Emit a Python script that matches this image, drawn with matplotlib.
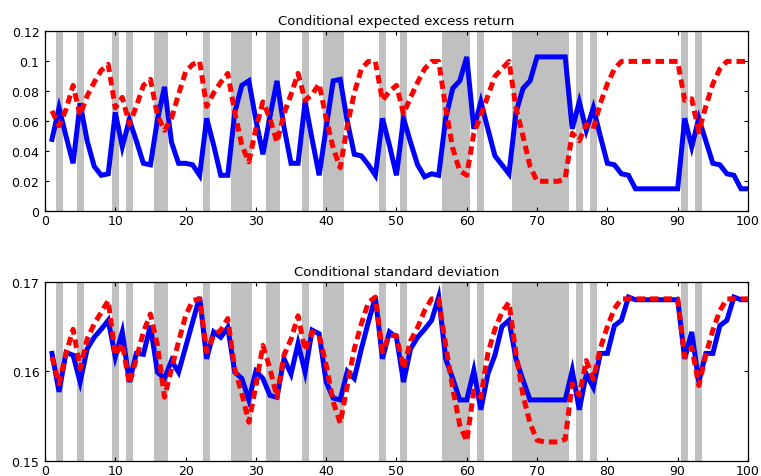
import numpy as np
import matplotlib
matplotlib.use("Agg")
import matplotlib.pyplot as plt

plt.rcParams['font.family'] = ['DejaVu Sans']

t = list(range(1, 101))

recession = [2, 5, 10, 12, 16, 17, 23, 27, 28, 29, 32, 33, 37, 40, 41, 42, 48, 51,
             57, 58, 59, 60, 62, 67, 68, 69, 70, 71, 72, 73, 74, 76, 78, 91, 93]

mean_blue = [0.048, 0.069, 0.050, 0.032, 0.072, 0.047, 0.030, 0.024, 0.025, 0.066,
             0.043, 0.061, 0.047, 0.032, 0.031, 0.061, 0.083, 0.046, 0.032, 0.032,
             0.031, 0.024, 0.062, 0.044, 0.024, 0.024, 0.066, 0.084, 0.087, 0.061,
             0.038, 0.063, 0.087, 0.056, 0.032, 0.032, 0.073, 0.048, 0.024, 0.056,
             0.087, 0.088, 0.060, 0.038, 0.037, 0.031, 0.024, 0.062, 0.044, 0.024,
             0.062, 0.046, 0.031, 0.023, 0.025, 0.024, 0.062, 0.082, 0.087, 0.103,
             0.055, 0.073, 0.055, 0.037, 0.031, 0.025, 0.066, 0.082, 0.087, 0.103,
             0.103, 0.103, 0.103, 0.103, 0.055, 0.073, 0.054, 0.069, 0.050, 0.032,
             0.031, 0.025, 0.024, 0.015, 0.015, 0.015, 0.015, 0.015, 0.015, 0.015,
             0.062, 0.043, 0.062, 0.047, 0.032, 0.031, 0.025, 0.024, 0.015, 0.015]

mean_red = [0.067, 0.057, 0.068, 0.084, 0.064, 0.077, 0.086, 0.094, 0.098, 0.069,
            0.076, 0.058, 0.070, 0.084, 0.088, 0.064, 0.054, 0.062, 0.078, 0.093,
            0.098, 0.100, 0.070, 0.079, 0.086, 0.092, 0.066, 0.044, 0.033, 0.055,
            0.073, 0.062, 0.046, 0.065, 0.078, 0.092, 0.074, 0.078, 0.085, 0.062,
            0.042, 0.029, 0.057, 0.079, 0.095, 0.100, 0.100, 0.074, 0.080, 0.084,
            0.065, 0.076, 0.086, 0.095, 0.100, 0.100, 0.069, 0.042, 0.027, 0.024,
            0.052, 0.064, 0.077, 0.090, 0.095, 0.100, 0.069, 0.050, 0.030, 0.020,
            0.020, 0.020, 0.020, 0.022, 0.052, 0.047, 0.058, 0.055, 0.072, 0.085,
            0.095, 0.100, 0.100, 0.100, 0.100, 0.100, 0.100, 0.100, 0.100, 0.100,
            0.074, 0.075, 0.053, 0.070, 0.085, 0.095, 0.100, 0.100, 0.100, 0.100]

sd_blue = [0.1620, 0.1577, 0.1621, 0.1618, 0.1588, 0.1625, 0.1638, 0.1647, 0.1657, 0.1616,
           0.1644, 0.1588, 0.1620, 0.1619, 0.1651, 0.1599, 0.1592, 0.1612, 0.1599, 0.1627,
           0.1655, 0.1683, 0.1614, 0.1644, 0.1638, 0.1649, 0.1599, 0.1592, 0.1568, 0.1600,
           0.1592, 0.1573, 0.1571, 0.1614, 0.1597, 0.1631, 0.1599, 0.1646, 0.1642, 0.1588,
           0.1570, 0.1568, 0.1600, 0.1592, 0.1625, 0.1655, 0.1683, 0.1614, 0.1644, 0.1638,
           0.1588, 0.1625, 0.1638, 0.1647, 0.1657, 0.1683, 0.1614, 0.1592, 0.1568, 0.1568,
           0.1601, 0.1557, 0.1597, 0.1618, 0.1650, 0.1657, 0.1614, 0.1590, 0.1568, 0.1568,
           0.1568, 0.1568, 0.1568, 0.1568, 0.1601, 0.1557, 0.1597, 0.1582, 0.1620, 0.1620,
           0.1651, 0.1657, 0.1683, 0.1680, 0.1680, 0.1680, 0.1680, 0.1680, 0.1680, 0.1680,
           0.1614, 0.1644, 0.1588, 0.1620, 0.1620, 0.1651, 0.1657, 0.1683, 0.1680, 0.1680]

sd_red = [0.1616, 0.1586, 0.1620, 0.1647, 0.1603, 0.1636, 0.1653, 0.1666, 0.1679, 0.1618,
          0.1631, 0.1586, 0.1614, 0.1644, 0.1664, 0.1629, 0.1571, 0.1603, 0.1633, 0.1662,
          0.1679, 0.1681, 0.1622, 0.1640, 0.1646, 0.1659, 0.1603, 0.1575, 0.1543, 0.1584,
          0.1629, 0.1603, 0.1571, 0.1618, 0.1636, 0.1662, 0.1623, 0.1644, 0.1640, 0.1607,
          0.1566, 0.1542, 0.1584, 0.1625, 0.1653, 0.1677, 0.1683, 0.1622, 0.1640, 0.1640,
          0.1603, 0.1634, 0.1649, 0.1668, 0.1681, 0.1681, 0.1629, 0.1581, 0.1540, 0.1522,
          0.1578, 0.1571, 0.1620, 0.1647, 0.1666, 0.1677, 0.1620, 0.1573, 0.1542, 0.1523,
          0.1521, 0.1521, 0.1521, 0.1524, 0.1586, 0.1573, 0.1612, 0.1591, 0.1626, 0.1650,
          0.1670, 0.1681, 0.1681, 0.1681, 0.1681, 0.1681, 0.1681, 0.1681, 0.1681, 0.1681,
          0.1616, 0.1627, 0.1584, 0.1618, 0.1646, 0.1668, 0.1681, 0.1681, 0.1681, 0.1681]

titles = ["Conditional expected excess return", "Conditional standard deviation"]
xticks = [0, 10, 20, 30, 40, 50, 60, 70, 80, 90, 100]
yticks_top = [0, 0.02, 0.04, 0.06, 0.08, 0.1, 0.12]
ylabels_top = ["0", "0.02", "0.04", "0.06", "0.08", "0.1", "0.12"]
yticks_bot = [0.15, 0.16, 0.17]
ylabels_bot = ["0.15", "0.16", "0.17"]

fig = plt.figure(figsize=(7.61, 4.77), dpi=100)
ax1 = fig.add_axes([0.0591, 0.555, 0.9238, 0.377])
ax2 = fig.add_axes([0.0591, 0.032, 0.9238, 0.375])

panels = [
    (ax1, mean_blue, mean_red, (0, 0.12), yticks_top, ylabels_top, titles[0]),
    (ax2, sd_blue, sd_red, (0.15, 0.17), yticks_bot, ylabels_bot, titles[1]),
]

for ax, blue, red, ylim, yt, yl, title in panels:
    for r in recession:
        ax.axvspan(r - 0.5, r + 0.5, color='#c0c0c0', lw=0, zorder=0)
    ax.plot(t, blue, color='#0000ff', lw=3.6, solid_joinstyle='miter', zorder=2)
    ax.plot(t, red, color='#ff0000', lw=3.6, ls=(0, (1.7, 1.0)), zorder=3)
    ax.set_xlim(0, 100)
    ax.set_ylim(*ylim)
    ax.set_xticks(xticks)
    ax.set_xticklabels([str(v) for v in xticks])
    ax.set_yticks(yt)
    ax.set_yticklabels(yl)
    ax.tick_params(direction='in', top=True, right=True, length=3, width=0.8,
                   labelsize=9, pad=2)
    ax.tick_params(axis='y', pad=4)
    for s in ax.spines.values():
        s.set_linewidth(0.9)
    ax.set_title(title, fontsize=9.5, pad=5)

fig.savefig("out.png", dpi=100)
